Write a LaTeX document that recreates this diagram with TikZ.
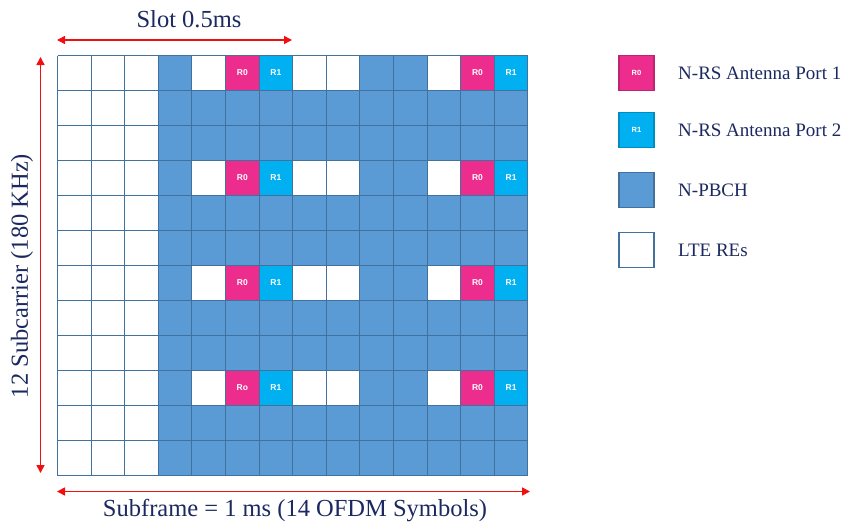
\documentclass[tikz,border=0pt]{standalone}
\usepackage{fontspec}
\setmainfont{Liberation Serif}
\newfontfamily\cellfont{Liberation Sans}
\usetikzlibrary{arrows.meta}
\definecolor{pbch}{HTML}{5B9BD5}
\definecolor{gridline}{HTML}{41719C}
\definecolor{rzero}{HTML}{EC2D8E}
\definecolor{rone}{HTML}{00B0F0}
\definecolor{navy}{HTML}{1C2960}
\definecolor{dimred}{HTML}{F01010}
\tikzset{
  gridln/.style={draw=gridline, line width=1pt},
  dimarrow/.style={draw=dimred, line width=1.6pt, {Triangle[width=8pt,length=8pt]}-{Triangle[width=8pt,length=8pt]}},
  bigtext/.style={text=navy, font=\fontsize{24.5}{28}\selectfont, inner sep=0pt},
  legtext/.style={text=navy, font=\fontsize{19}{22}\selectfont, inner sep=0pt, anchor=west},
  celltext/.style={text=white, font=\cellfont\bfseries\fontsize{8.5}{10}\selectfont, inner sep=0pt},
  legbox/.style={draw=gridline, line width=1.1pt, minimum width=35pt, minimum height=35pt, inner sep=0pt},
}
\begin{document}
\begin{tikzpicture}[x=1pt,y=-1pt]
\useasboundingbox (0,0) rectangle (844,525);
\def\W{33.6}
\def\H{35}
\def\X{57.5}
\def\Y{55.5}
% PBCH region
\fill[pbch] ({\X+3*\W},\Y) rectangle ({\X+14*\W},{\Y+12*\H});
\foreach \r in {0,3,6,9} {
  \foreach \c in {4,7,8,11} \fill[white] ({\X+\c*\W},{\Y+\r*\H}) rectangle ++(\W,\H);
  \foreach \c in {5,12} \fill[rzero] ({\X+\c*\W},{\Y+\r*\H}) rectangle ++(\W,\H);
  \foreach \c in {6,13} \fill[rone] ({\X+\c*\W},{\Y+\r*\H}) rectangle ++(\W,\H);
}
% grid lines
\foreach \c in {0,...,14} \draw[gridln] ({\X+\c*\W},\Y) -- ({\X+\c*\W},{\Y+12*\H});
\foreach \r in {0,...,12} \draw[gridln] (\X,{\Y+\r*\H}) -- ({\X+14*\W},{\Y+\r*\H});
% cell labels
\foreach \r/\t in {0/R0,3/R0,6/R0,9/Ro} {
  \node[celltext] (a-\r) at ({\X+5.5*\W},{\Y+(\r+0.5)*\H}) {\t};
  \node[celltext] (b-\r) at ({\X+6.5*\W},{\Y+(\r+0.5)*\H}) {R1};
  \node[celltext] (c-\r) at ({\X+12.5*\W},{\Y+(\r+0.5)*\H}) {R0};
  \node[celltext] (d-\r) at ({\X+13.5*\W},{\Y+(\r+0.5)*\H}) {R1};
}
% dimension arrows
\coordinate (slotL) at (57,40);
\coordinate (slotR) at (292,40);
\draw[dimarrow] (slotL) -- (slotR);
\node[bigtext] (slot) at (189,19) {Slot 0.5ms};
\coordinate (scT) at (40.5,57);
\coordinate (scB) at (40.5,473);
\draw[dimarrow] (scT) -- (scB);
\node[bigtext, rotate=90] (sc) at (22,276) {12 Subcarrier (180 KHz)};
\coordinate (sfL) at (57,491.5);
\coordinate (sfR) at (530,491.5);
\draw[dimarrow] (sfL) -- (sfR);
\node[bigtext] (sf) at (295,511) {Subframe = 1 ms (14 OFDM Symbols)};
% legend
\node[legbox, fill=rzero, draw=rzero!80!black] (l1) at (636.5,73) {};
\node[celltext, font=\cellfont\bfseries\fontsize{7.5}{9}\selectfont] at (l1) {R0};
\node[legtext] (t1) at (678,73) {N-RS Antenna Port 1};
\node[legbox, fill=rone, draw=rone!80!black] (l2) at (636.5,130) {};
\node[celltext, font=\cellfont\bfseries\fontsize{7.5}{9}\selectfont] at (l2) {R1};
\node[legtext] (t2) at (678,130) {N-RS Antenna Port 2};
\node[legbox, fill=pbch] (l3) at (636.5,190) {};
\node[legtext] (t3) at (678,190) {N-PBCH};
\node[legbox, fill=white] (l4) at (636.5,250) {};
\node[legtext] (t4) at (678,250) {LTE REs};
\end{tikzpicture}
\end{document}
